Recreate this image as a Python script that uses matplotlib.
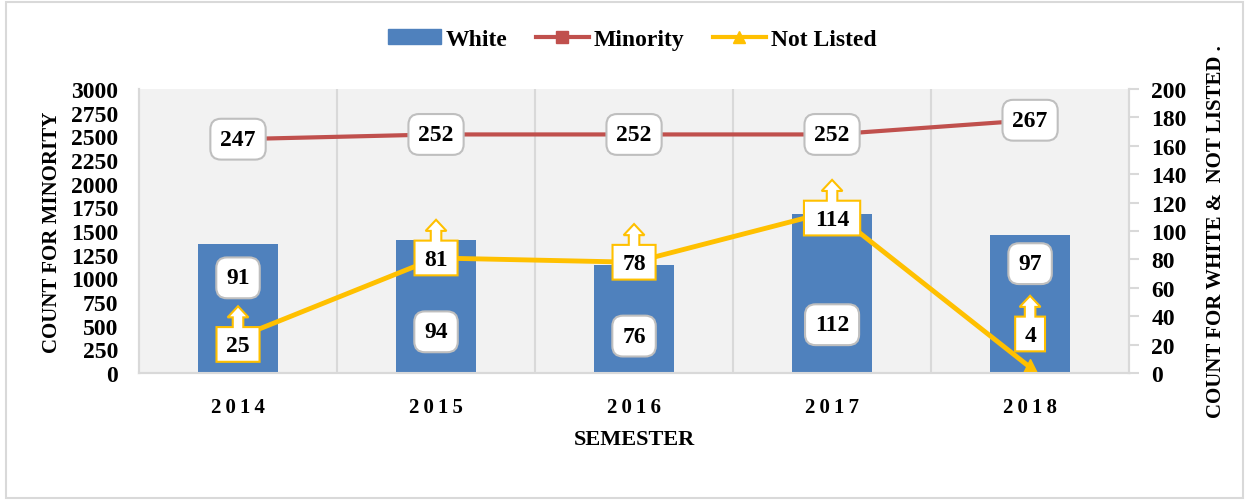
import matplotlib.pyplot as plt
import matplotlib.transforms as mtransforms
from matplotlib.path import Path
from matplotlib.patches import PathPatch, Rectangle
from matplotlib.lines import Line2D

plt.rcParams['font.family'] = ['Liberation Serif', 'DejaVu Serif']
plt.rcParams['font.weight'] = 'bold'
plt.rcParams['axes.labelweight'] = 'bold'

# data
semesters = ['2014', '2015', '2016', '2017', '2018']
white = [91, 94, 76, 112, 97]
minority = [2470, 2520, 2520, 2520, 2670]
not_listed = [25, 81, 78, 114, 4]

# where the white labels sit inside the bars (right axis units)
white_label_y = [67, 29, 26, 34, 77]
# vertical shift (points) of the not-listed callouts
nl_shift = [-5, 0, 0, -5, 24]

BLUE = '#4F81BD'
RED = '#C0504D'
GOLD = '#FFC000'
GRID = '#D9D9D9'
FS = 17

fig = plt.figure(figsize=(12.49, 5.02), dpi=100)
fig.patches.append(Rectangle((0.005, 0.005), 0.99, 0.99, transform=fig.transFigure,
                             fill=False, edgecolor=GRID, lw=1.5))
ax = fig.add_axes([0.1113, 0.255, 0.7927, 0.5657])
ax2 = ax.twinx()

x = list(range(len(semesters)))

ax.set_facecolor('#F2F2F2')
ax.set_xlim(-0.5, 4.5)
ax.set_ylim(0, 3000)
ax.set_yticks(range(0, 3001, 250))
ax.set_xticks(x)
ax.set_xticklabels(['\u2009'.join(s) for s in semesters], fontsize=15)
ax.set_xticks([0.5, 1.5, 2.5, 3.5], minor=True)
ax.grid(which='minor', axis='x', color=GRID, lw=1.5)
ax.tick_params(axis='x', which='both', length=0, pad=17)
ax.tick_params(axis='y', length=0, labelsize=FS, pad=15)
ax.set_ylabel('COUNT FOR MINORITY', fontsize=15, labelpad=6)
ax.set_xlabel('SEMESTER', fontsize=16, labelpad=9)

ax2.set_ylim(0, 200)
ax2.set_yticks(range(0, 201, 20))
ax2.tick_params(axis='y', length=7, color=GRID, width=1.5, labelsize=FS, pad=9)
ax2.set_ylabel('COUNT FOR WHITE &  NOT LISTED .', fontsize=15, labelpad=14)

for a in (ax, ax2):
    a.spines['top'].set_visible(False)
    for side in ('bottom', 'right', 'left'):
        a.spines[side].set_color(GRID)
        a.spines[side].set_linewidth(1.5)

ax.plot(x, minority, color=RED, lw=3, marker='s', ms=7, zorder=3)
ax2.bar(x, white, width=0.4, color=BLUE, zorder=1)
ax2.plot(x, not_listed, color=GOLD, lw=3.5, marker='^', ms=11, zorder=2)
ax2.set_xlim(-0.5, 4.5)

box = dict(boxstyle='round,pad=0.42,rounding_size=0.45', fc='white', ec='#BFBFBF', lw=1.5)
for xi, v in zip(x, minority):
    ax.annotate(f'{v // 10}', (xi, v), ha='center', va='center', fontsize=FS,
                bbox=box, zorder=5)
for xi, v, ly in zip(x, white, white_label_y):
    ax2.annotate(f'{v}', (xi, ly), ha='center', va='center', fontsize=FS,
                 bbox=box, zorder=5)


def callout(w):
    # box with an upward arrow on top, in points, centred on (0, 0)
    hw, hh = w / 2, 12.5
    sw, sh, aw, ah = 3.8, 7, 7.5, 8
    verts = [(-hw, -hh), (hw, -hh), (hw, hh), (sw, hh), (sw, hh + sh),
             (aw, hh + sh), (0, hh + sh + ah), (-aw, hh + sh), (-sw, hh + sh),
             (-sw, hh), (-hw, hh), (-hw, -hh)]
    codes = [Path.MOVETO] + [Path.LINETO] * 10 + [Path.CLOSEPOLY]
    return Path(verts, codes)


for xi, v, dy in zip(x, not_listed, nl_shift):
    txt = f'{v}'
    w = 12 + 9.5 * len(txt)
    tr = (mtransforms.Affine2D().translate(0, dy).scale(1 / 72.0) + fig.dpi_scale_trans
          + mtransforms.ScaledTranslation(xi, v, ax2.transData))
    ax2.add_patch(PathPatch(callout(w), transform=tr, fc='white', ec=GOLD, lw=1.5,
                            zorder=6, clip_on=False))
    ax2.annotate(txt, (xi, v), xytext=(0, dy - 1), textcoords='offset points',
                 ha='center', va='center', fontsize=FS, zorder=7)

ax2.set_ylim(0, 200)
ax2.set_xlim(-0.5, 4.5)

handles = [Rectangle((0, 0), 1, 1, color=BLUE),
           Line2D([], [], color=RED, lw=3, marker='s', ms=8),
           Line2D([], [], color=GOLD, lw=3, marker='^', ms=9)]
fig.legend(handles, ['White', 'Minority', 'Not Listed'], loc='center',
           bbox_to_anchor=(0.506, 0.92), ncol=3, frameon=False, fontsize=FS,
           handlelength=2.25, handleheight=0.6, handletextpad=0.2, columnspacing=1.2)

fig.savefig('out.png', dpi=100)
